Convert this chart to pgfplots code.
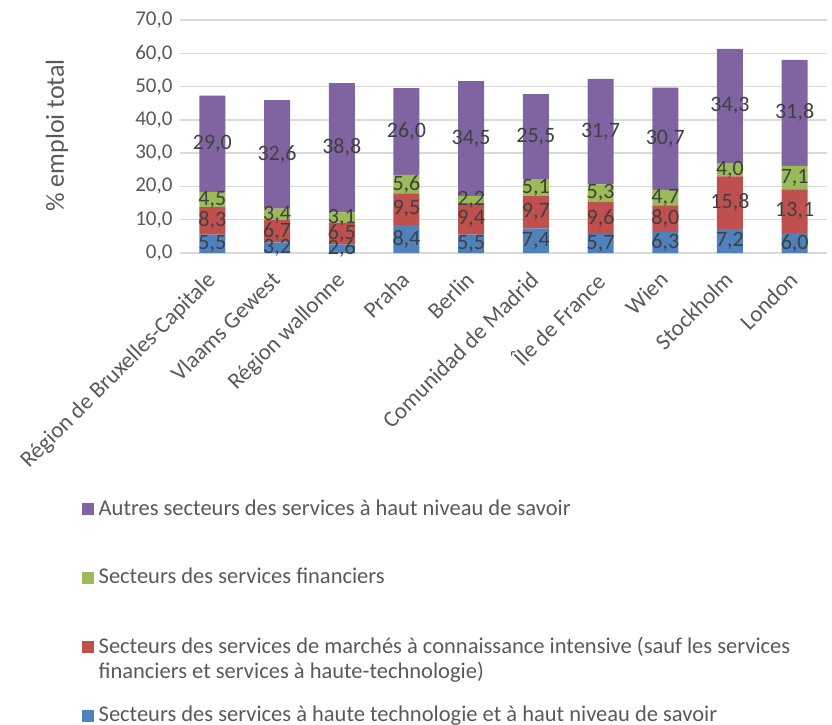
\documentclass[border=0pt]{standalone}
\usepackage{pgfplots}
\usepackage{pgfplotstable}
\pgfplotsset{compat=1.18}
\usepackage{fontspec}
\setmainfont{Carlito}
\definecolor{cblue}{HTML}{4F81BD}
\definecolor{cred}{HTML}{C0504D}
\definecolor{cgreen}{HTML}{9BBB59}
\definecolor{cpurple}{HTML}{8064A2}
\definecolor{cgrid}{HTML}{D9D9D9}
\definecolor{ctext}{HTML}{595959}
\definecolor{clab}{HTML}{404040}
\newcommand{\lsq}[1]{\textcolor{#1}{\rule{12pt}{12pt}}\hspace{5pt}}

\pgfplotstableread{
x blue red green purple
0 5.5 8.3 4.5 29.0
1 3.2 6.7 3.4 32.6
2 2.6 6.5 3.1 38.8
3 8.4 9.5 5.6 26.0
4 5.5 9.4 2.2 34.5
5 7.4 9.7 5.1 25.5
6 5.7 9.6 5.3 31.7
7 6.3 8.0 4.7 30.7
8 7.2 15.8 4.0 34.3
9 6.0 13.1 7.1 31.8
}\data

% label positions: middle of each segment
\pgfplotstableread{
x y lab
0 2.75 5,5
0 9.65 8,3
0 16.05 4,5
0 32.8 29,0
1 1.6 3,2
1 6.55 6,7
1 11.6 3,4
1 29.6 32,6
2 1.3 2,6
2 5.85 6,5
2 10.65 3,1
2 31.6 38,8
3 4.2 8,4
3 13.15 9,5
3 20.7 5,6
3 36.5 26,0
4 2.75 5,5
4 10.2 9,4
4 16.0 2,2
4 34.35 34,5
5 3.7 7,4
5 12.25 9,7
5 19.65 5,1
5 34.95 25,5
6 2.85 5,7
6 10.5 9,6
6 17.95 5,3
6 36.45 31,7
7 3.15 6,3
7 10.3 8,0
7 16.65 4,7
7 34.35 30,7
8 3.6 7,2
8 15.1 15,8
8 25.0 4,0
8 44.15 34,3
9 3.0 6,0
9 12.55 13,1
9 22.65 7,1
9 42.1 31,8
}\labels

\begin{document}
\begin{tikzpicture}
\path[use as bounding box] (0pt,0pt) rectangle (832pt,724pt);
\begin{axis}[
  at={(180pt,471pt)}, anchor=south west,
  scale only axis, width=647pt, height=233pt,
  ybar stacked, bar width=26pt,
  xmin=-0.5, xmax=9.5, ymin=0, ymax=70,
  ytick={0,10,...,70},
  xtick=data,
  xticklabels={Région de Bruxelles-Capitale, Vlaams Gewest, Région wallonne, Praha, Berlin, Comunidad de Madrid, Île de France, Wien, Stockholm, London},
  xticklabel style={rotate=45, anchor=north east, inner sep=2pt, xshift=-15pt, yshift=-5pt, font=\fontsize{23}{25}\selectfont},
  yticklabel style={xshift=-4pt, font=\fontsize{21}{24}\selectfont},
  /pgf/number format/assume math mode=true,
  /pgf/number format/.cd, fixed, fixed zerofill, precision=1, use comma, /pgfplots/.cd,
  ymajorgrids, grid style={cgrid, line width=1.3pt},
  axis line style={draw=none},
  major tick style={draw=none},
  tick label style={color=ctext},
  ylabel={\% emploi total},
  every axis y label/.style={at={(axis description cs:-0.19,0.505)}, rotate=90, anchor=center,
    font=\fontsize{26}{28}\selectfont, color=ctext},
  reverse legend,
  legend cell align=left,
  legend style={at={(-0.160,-1.04)}, anchor=north west, draw=none, fill=none,
    font=\fontsize{22.5}{25}\selectfont, text=ctext, row sep=47.5pt,
    nodes={text depth=0.15em}, column sep=0pt},
  legend image code/.code={},
]
\addplot[fill=cblue, draw=none] table[x=x, y=blue] {\data};
\addplot[fill=cred, draw=none] table[x=x, y=red] {\data};
\addplot[fill=cgreen, draw=none] table[x=x, y=green] {\data};
\addplot[fill=cpurple, draw=none] table[x=x, y=purple] {\data};
\legend{\lsq{cblue}Secteurs des services à haute technologie et à haut niveau de savoir,
  {\vtop{\hbox{\lsq{cred}Secteurs des services de marchés à connaissance intensive (sauf les services}\hbox{\hspace{17pt}financiers et services à haute-technologie)}}},
  \lsq{cgreen}Secteurs des services financiers,
  \lsq{cpurple}Autres secteurs des services à haut niveau de savoir}
\end{axis}
\begin{axis}[
  at={(180pt,471pt)}, anchor=south west,
  scale only axis, width=647pt, height=233pt,
  xmin=-0.5, xmax=9.5, ymin=0, ymax=70,
  hide axis, clip=false,
]
\addplot[only marks, mark=none, point meta=explicit symbolic,
  nodes near coords,
  every node near coord/.style={anchor=center, inner sep=0pt, font=\fontsize{22}{24}\selectfont, text=clab}]
  table[x=x, y=y, meta=lab] {\labels};
\end{axis}
\end{tikzpicture}
\end{document}
